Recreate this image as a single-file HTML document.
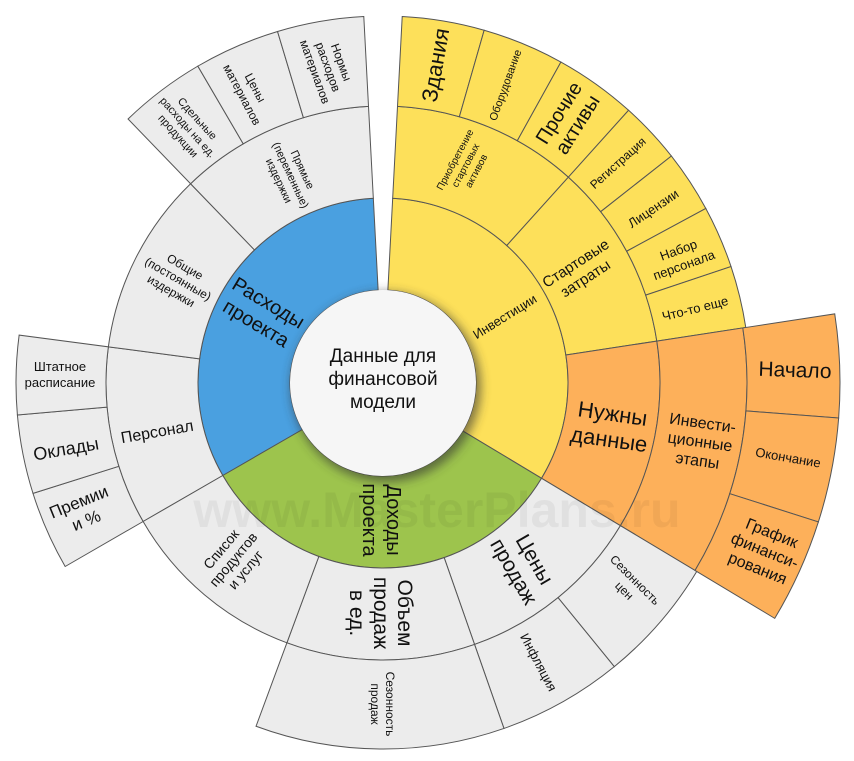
<!DOCTYPE html>
<html><head><meta charset="utf-8"><style>
html,body{margin:0;padding:0;background:#fff;}
svg{display:block;font-family:"Liberation Sans","DejaVu Sans",sans-serif;}
text{fill:#111;text-anchor:middle;}
</style></head><body>
<svg id="s" width="854" height="761" viewBox="0 0 854 761" xmlns="http://www.w3.org/2000/svg">
<defs><filter id="sh" x="-30%" y="-30%" width="160%" height="160%"><feGaussianBlur stdDeviation="5"/></filter></defs>
<g id="cells"></g>
<text x="437" y="527" style="font-size:50px;font-weight:bold;fill:#000;opacity:0.045">www.MasterPlans.ru</text>
<circle cx="386" cy="387" r="95" fill="#333" opacity="0.6" filter="url(#sh)"/>
<circle cx="383" cy="383" r="93" fill="#f6f6f6"/>
<g font-size="19"><text x="383" y="362">Данные для</text><text x="383" y="385">финансовой</text><text x="383" y="408">модели</text></g>

<g transform="translate(263,312) rotate(31)" font-size="20"><text y="-4">Расходы</text><text y="20">проекта</text></g>
<g transform="translate(505,317) rotate(-32)" font-size="13"><text y="4">Инвестиции</text></g>
<g transform="translate(383,520) rotate(90)" font-size="20"><text y="-4">Доходы</text><text y="20">проекта</text></g>

<g transform="translate(611,425) rotate(8)" font-size="22"><text y="-4">Нужны</text><text y="22">данные</text></g>
<g transform="translate(700,442) rotate(8)" font-size="16"><text y="-14">Инвести-</text><text y="5">ционные</text><text y="24">этапы</text></g>
<g transform="translate(795,370) rotate(2)" font-size="21"><text y="7">Начало</text></g>
<g transform="translate(788,458) rotate(10)" font-size="13"><text y="4">Окончание</text></g>
<g transform="translate(765,550) rotate(22)" font-size="16"><text y="-13">График</text><text y="6">финанси-</text><text y="25">рования</text></g>

<g transform="translate(435,65) rotate(-80)" font-size="22"><text y="8">Здания</text></g>
<g transform="translate(505,85) rotate(-70)" font-size="11"><text y="4">Оборудование</text></g>
<g transform="translate(567,118) rotate(-58)" font-size="20"><text y="-3">Прочие</text><text y="19">активы</text></g>
<g transform="translate(618,163) rotate(-42)" font-size="12"><text y="4">Регистрация</text></g>
<g transform="translate(653,208) rotate(-34)" font-size="13"><text y="5">Лицензии</text></g>
<g transform="translate(681,257) rotate(-20)" font-size="13"><text y="-3">Набор</text><text y="13">персонала</text></g>
<g transform="translate(695,308) rotate(-14)" font-size="13"><text y="5">Что-то еще</text></g>
<g transform="translate(465,165) rotate(-62)" font-size="10"><text y="-8">Приобретение</text><text y="4">стартовых</text><text y="16">активов</text></g>
<g transform="translate(580,270) rotate(-33)" font-size="15"><text y="-3">Стартовые</text><text y="15">затраты</text></g>

<g transform="translate(328,67) rotate(70)" font-size="12"><text y="-10">Нормы</text><text y="4">расходов</text><text y="18">материалов</text></g>
<g transform="translate(249,91) rotate(62)" font-size="12"><text y="-3">Цены</text><text y="12">материалов</text></g>
<g transform="translate(188,127) rotate(48)" font-size="11"><text y="-9">Сдельные</text><text y="4">расходы на ед.</text><text y="17">продукции</text></g>
<g transform="translate(291,175) rotate(65)" font-size="11"><text y="-9">Прямые</text><text y="4">(переменные)</text><text y="17">издержки</text></g>
<g transform="translate(178,279) rotate(30)" font-size="12"><text y="-10">Общие</text><text y="4">(постоянные)</text><text y="18">издержки</text></g>
<g transform="translate(157,431) rotate(-10)" font-size="16"><text y="6">Персонал</text></g>
<g transform="translate(60,375)" font-size="13"><text y="-4">Штатное</text><text y="12">расписание</text></g>
<g transform="translate(66,449) rotate(-10)" font-size="18"><text y="6">Оклады</text></g>
<g transform="translate(82,510) rotate(-22)" font-size="17"><text y="-3">Премии</text><text y="17">и %</text></g>
<g transform="translate(234,560) rotate(-50)" font-size="14"><text y="-12">Список</text><text y="4">продуктов</text><text y="20">и услуг</text></g>
<g transform="translate(382,613) rotate(90)" font-size="21"><text y="-16">Объем</text><text y="8">продаж</text><text y="32">в ед.</text></g>
<g transform="translate(383,704) rotate(90)" font-size="12"><text y="-3">Сезонность</text><text y="12">продаж</text></g>
<g transform="translate(525,565) rotate(60)" font-size="21"><text y="-4">Цены</text><text y="20">продаж</text></g>
<g transform="translate(539,662) rotate(62)" font-size="13"><text y="5">Инфляция</text></g>
<g transform="translate(630,585) rotate(45)" font-size="12"><text y="-3">Сезонность</text><text y="12">цен</text></g>
</svg>
<script>
(function(){
var cx=383,cy=383,NS="http://www.w3.org/2000/svg";
function P(r,a){a=a*Math.PI/180;return (cx+r*Math.cos(a)).toFixed(2)+","+(cy+r*Math.sin(a)).toFixed(2);}
function sec(r0,r1,a0,a1){var l=(a1-a0)>180?1:0;
return "M"+P(r0,a0)+"L"+P(r1,a0)+"A"+r1+","+r1+" 0 "+l+" 1 "+P(r1,a1)+"L"+P(r0,a1)+"A"+r0+","+r0+" 0 "+l+" 0 "+P(r0,a0)+"Z";}
var G="#ececec",Y="#fde05a",B="#4aa0e0",Gr="#9dc44d",O="#fdb05a";
var c=[
[93,185,150,267,B],[93,185,273,391,Y],[93,185,31,150,Gr],
[185,277,150,187.5,G],[185,277,187.5,226,G],[185,277,226,267,G],
[185,277,273,312,Y],[185,277,312,351.3,Y],[185,277,351.3,391,O],
[185,277,31,70.7,G],[185,277,70.7,110.3,G],[185,277,110.3,150,G],
[277,367,150,162.5,G],[277,367,162.5,175,G],[277,367,175,187.5,G],
[277,367,226,239.7,G],[277,367,239.7,253.3,G],[277,367,253.3,267,G],
[277,367,273,286,Y],[277,367,286,299,Y],[277,367,299,312,Y],
[277,367,312,321.8,Y],[277,367,321.8,331.6,Y],[277,367,331.6,341.5,Y],[277,367,341.5,351.3,Y],
[277,364,351.3,391,O],
[277,366,31,50.8,G],[277,366,50.8,70.7,G],[277,366,70.7,110.3,G],
[364,457,351.3,364.4,O],[364,457,364.4,377.7,O],[364,457,377.7,391,O]];
var g=document.getElementById("cells");
c.forEach(function(d){var p=document.createElementNS(NS,"path");p.setAttribute("d",sec(d[0],d[1],d[2],d[3]));
p.setAttribute("fill",d[4]);p.setAttribute("stroke","#555");p.setAttribute("stroke-width","1");g.appendChild(p);});
})();
</script>
</body></html>
